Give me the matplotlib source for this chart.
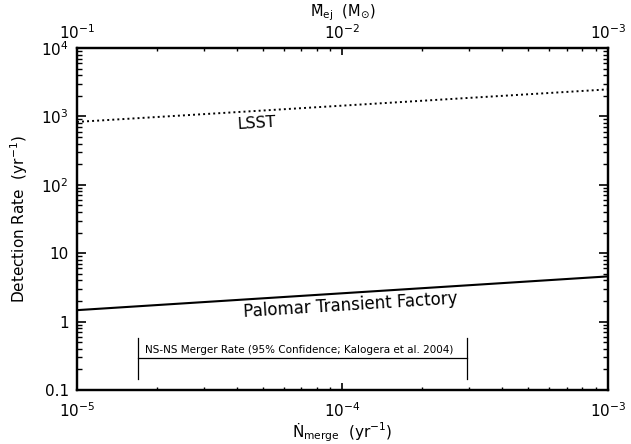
import matplotlib
matplotlib.use("Agg")
import matplotlib.pyplot as plt
from matplotlib.ticker import FixedLocator, LogLocator, NullFormatter

plt.rcParams['font.family'] = ['DejaVu Sans']
plt.rcParams['mathtext.fontset'] = 'dejavusans'
plt.rcParams['mathtext.default'] = 'regular'

# Data
merge_rate = [1e-5, 1e-3]                 # N_merge (yr^-1)
lsst_rate = [830, 2480]                   # detection rate (yr^-1)
ptf_rate = [1.47, 4.58]                   # detection rate (yr^-1)
kalogera_range = [1.70e-5, 2.95e-4]       # NS-NS merger rate 95% range
kalogera_y = 0.294
kalogera_cap = [0.147, 0.585]

x_ticks = [1e-5, 1e-4, 1e-3]
x_tick_labels = ['$10^{-5}$', '$10^{-4}$', '$10^{-3}$']
top_tick_labels = ['$10^{-1}$', '$10^{-2}$', '$10^{-3}$']
y_ticks = [0.1, 1, 10, 100, 1000, 10000]
y_tick_labels = ['0.1', '1', '10', '$10^{2}$', '$10^{3}$', '$10^{4}$']

FS = 11

fig = plt.figure(figsize=(6.31, 4.44), dpi=100)
ax = fig.add_axes([0.122, 0.1216, 0.8415, 0.7704])

ax.plot(merge_rate, lsst_rate, color='black', lw=1.4, linestyle=(0, (1, 1.6)),
        dash_capstyle='butt')
ax.plot(merge_rate, ptf_rate, color='black', lw=1.5)

ax.plot(kalogera_range, [kalogera_y, kalogera_y], color='black', lw=0.9)
for xv in kalogera_range:
    ax.plot([xv, xv], kalogera_cap, color='black', lw=0.9)

ax.set_xscale('log')
ax.set_yscale('log')
ax.set_xlim(1e-5, 1e-3)
ax.set_ylim(0.1, 1e4)

ax.text(4.76e-5, 800, 'LSST', fontsize=11.5, ha='center', va='center', rotation=3.5)
ax.text(1.07e-4, 1.76, 'Palomar Transient Factory', fontsize=12, ha='center',
        va='center', rotation=3.6)
ax.text(1.80e-5, 0.325, 'NS-NS Merger Rate (95% Confidence; Kalogera et al. 2004)',
        fontsize=7.5, ha='left', va='bottom')

ax.xaxis.set_major_locator(FixedLocator(x_ticks))
ax.set_xticklabels(x_tick_labels)
ax.xaxis.set_minor_locator(LogLocator(base=10, subs=range(2, 10), numticks=20))
ax.xaxis.set_minor_formatter(NullFormatter())
ax.yaxis.set_major_locator(FixedLocator(y_ticks))
ax.set_yticklabels(y_tick_labels)
ax.yaxis.set_minor_locator(LogLocator(base=10, subs=range(2, 10), numticks=20))
ax.yaxis.set_minor_formatter(NullFormatter())

ax.tick_params(axis='x', which='major', direction='in', length=5, width=1.2,
               labelsize=FS, pad=8, top=False)
ax.tick_params(axis='x', which='minor', direction='in', length=2.5, width=1.0, top=False)
ax.tick_params(axis='y', which='major', direction='in', length=6.5, width=1.2,
               labelsize=FS, right=True, pad=6)
ax.tick_params(axis='y', which='minor', direction='in', length=3.6, width=1.0, right=True)

for s in ax.spines.values():
    s.set_linewidth(1.6)

ax.set_xlabel('Ṅ$_{merge}$  (yr$^{-1}$)', fontsize=FS, va='top')
ax.xaxis.set_label_coords(0.5, -0.088)
ax.set_ylabel('Detection Rate  (yr$^{-1}$)', fontsize=FS)
ax.yaxis.set_label_coords(-0.088, 0.5)

ax2 = ax.twiny()
ax2.set_xscale('log')
ax2.set_xlim(ax.get_xlim())
ax2.xaxis.set_major_locator(FixedLocator(x_ticks))
ax2.set_xticklabels(top_tick_labels)
ax2.xaxis.set_minor_locator(LogLocator(base=10, subs=range(2, 10), numticks=20))
ax2.xaxis.set_minor_formatter(NullFormatter())
ax2.tick_params(axis='x', which='major', direction='in', length=5, width=1.2,
                labelsize=FS, pad=4.5)
ax2.tick_params(axis='x', which='minor', direction='in', length=2.5, width=1.0)
ax2.set_xlabel('M̄$_{ej}$  (M$_{\\odot}$)', fontsize=10.5, va='bottom')
ax2.xaxis.set_label_coords(0.5, 1.074)
for s in ax2.spines.values():
    s.set_linewidth(1.6)

fig.savefig('out.png', dpi=100)
